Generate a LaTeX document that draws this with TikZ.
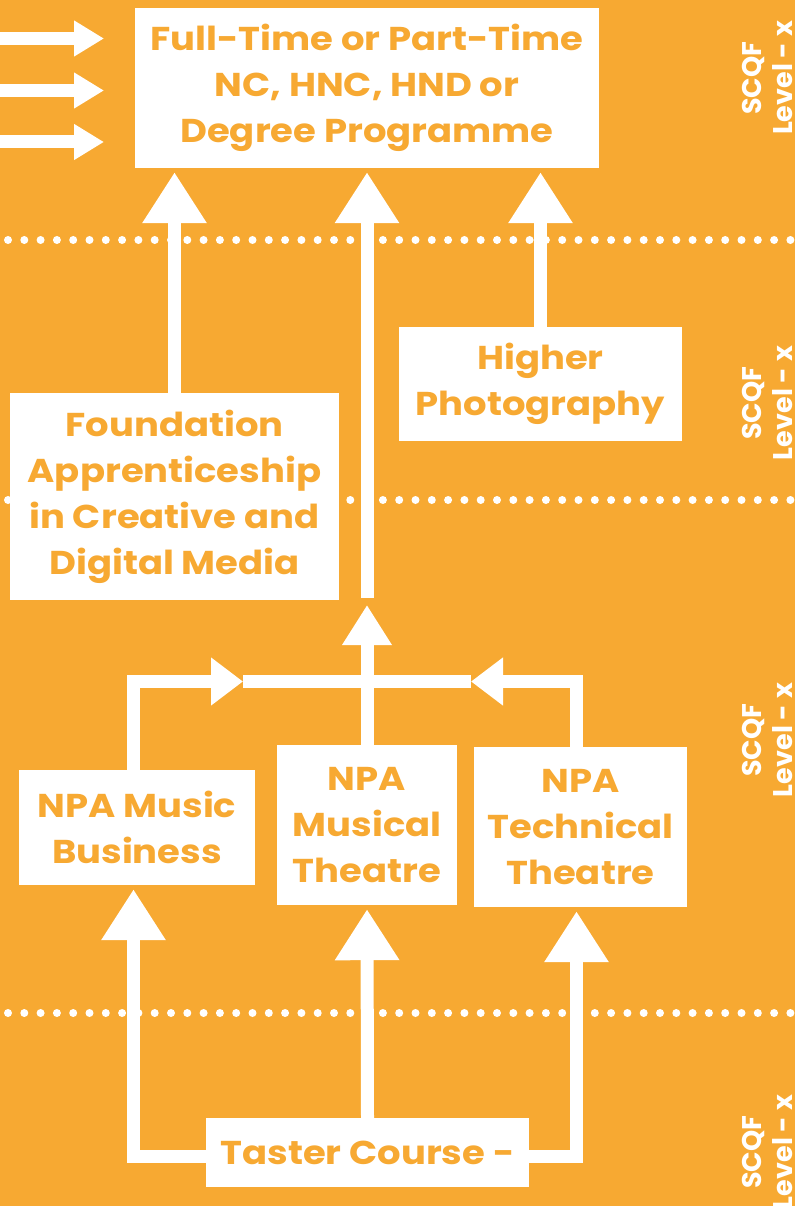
\documentclass[tikz,border=0pt]{standalone}
\usepackage{fontspec}
\setmainfont{Poppins}
\newfontfamily\boxfont{Poppins}[FakeStretch=1.12]
\usetikzlibrary{arrows.meta}
\definecolor{bg}{HTML}{F7A932}
\begin{document}
\begin{tikzpicture}[x=1pt,y=-1pt,
  box/.style={fill=white, text=bg, align=center, inner sep=0pt,
    font=\boxfont\bfseries\fontsize{33}{46}\selectfont},
  conn/.style={draw=white, line width=13pt, line join=miter},
  bigtip/.style={-{Triangle[length=51pt,width=61pt,fill=white]}},
  midtip/.style={-{Triangle[length=40pt,width=47pt,fill=white]}},
  sidetip/.style={-{Triangle[length=32pt,width=46pt,fill=white]}},
  feedtip/.style={-{Triangle[length=30pt,width=34pt,fill=white]}},
  dotline/.style={draw=white, line width=8pt, line cap=round, dash pattern=on 0pt off 16.3pt},
  level/.style={text=white, align=center, rotate=90, inner sep=0pt,
    font=\bfseries\fontsize{27}{31}\selectfont}]
\fill[bg] (0,0) rectangle (795,1206);
\useasboundingbox (0,0) rectangle (795,1206);

% level separators
\draw[dotline] (8,240) -- (795,240);
\draw[dotline] (8,500) -- (795,500);
\draw[dotline] (8,1013) -- (795,1013);

% qualification boxes
\node[box, minimum width=464pt, minimum height=160pt] (top) at (367,88)
  {Full-Time or Part-Time\\NC, HNC, HND or\\Degree Programme};
\node[box, minimum width=329pt, minimum height=207pt] (found) at (174.5,496.5)
  {Foundation\\Apprenticeship\\in Creative and\\Digital Media};
\node[box, minimum width=283pt, minimum height=114pt] (photo) at (540.5,384)
  {Higher\\Photography};
\node[box, minimum width=236pt, minimum height=115pt] (music) at (137,827.5)
  {NPA Music\\Business};
\node[box, minimum width=180pt, minimum height=160pt] (musical) at (367,825)
  {NPA\\Musical\\Theatre};
\node[box, minimum width=213pt, minimum height=160pt] (tech) at (580.5,827)
  {NPA\\Technical\\Theatre};
\node[box, minimum width=323pt, minimum height=69pt] (taster) at (367.5,1152.5)
  {Taster Course -};

% SCQF level labels
\node[level] (lv1) at (767,78) {SCQF\\Level - x};
\node[level] (lv2) at (767,403) {SCQF\\Level - x};
\node[level] (lv3) at (767,740) {SCQF\\Level - x};
\node[level] (lv4) at (767,1152) {SCQF\\Level - x};

% incoming routes on the left
\coordinate (in1) at (0,38.5);
\coordinate (in2) at (0,90.5);
\coordinate (in3) at (0,142);
\coordinate (in1e) at (104,38.5);
\coordinate (in2e) at (104,90.5);
\coordinate (in3e) at (104,142);
\draw[conn, feedtip] (in1) -- (in1e);
\draw[conn, feedtip] (in2) -- (in2e);
\draw[conn, feedtip] (in3) -- (in3e);

% progression to the top programme
\coordinate (midstart) at (367,598);
\draw[conn, bigtip, shorten >=4pt] (found.north) -- (found.north |- top.south);
\draw[conn, bigtip, shorten >=4pt] (midstart) -- (top.south);
\draw[conn, bigtip, shorten >=4pt] (photo.north) -- (photo.north |- top.south);

% junction joining the three NPA courses
\coordinate (jl) at (243,681.5);
\coordinate (jr) at (471,681.5);
\coordinate (jtip) at (367,605);
\draw[conn, sidetip] ([xshift=-3.5pt]music.north) |- (jl);
\draw[conn] (jl) -- (jr);
\draw[conn, sidetip] ([xshift=-4pt]tech.north) |- (jr);
\draw[conn, midtip] (musical.north) -- (jtip);

% from the taster course to the NPA courses
\coordinate (tl) at (206,1156.5);
\coordinate (tr) at (529,1156.5);
\draw[conn, bigtip, shorten >=4pt] (tl) -| ([xshift=-3.5pt]music.south);
\draw[conn, bigtip, shorten >=4pt] (taster.north) -- (musical.south);
\draw[conn, bigtip, shorten >=4pt] (tr) -| ([xshift=-4pt]tech.south);
\end{tikzpicture}
\end{document}
